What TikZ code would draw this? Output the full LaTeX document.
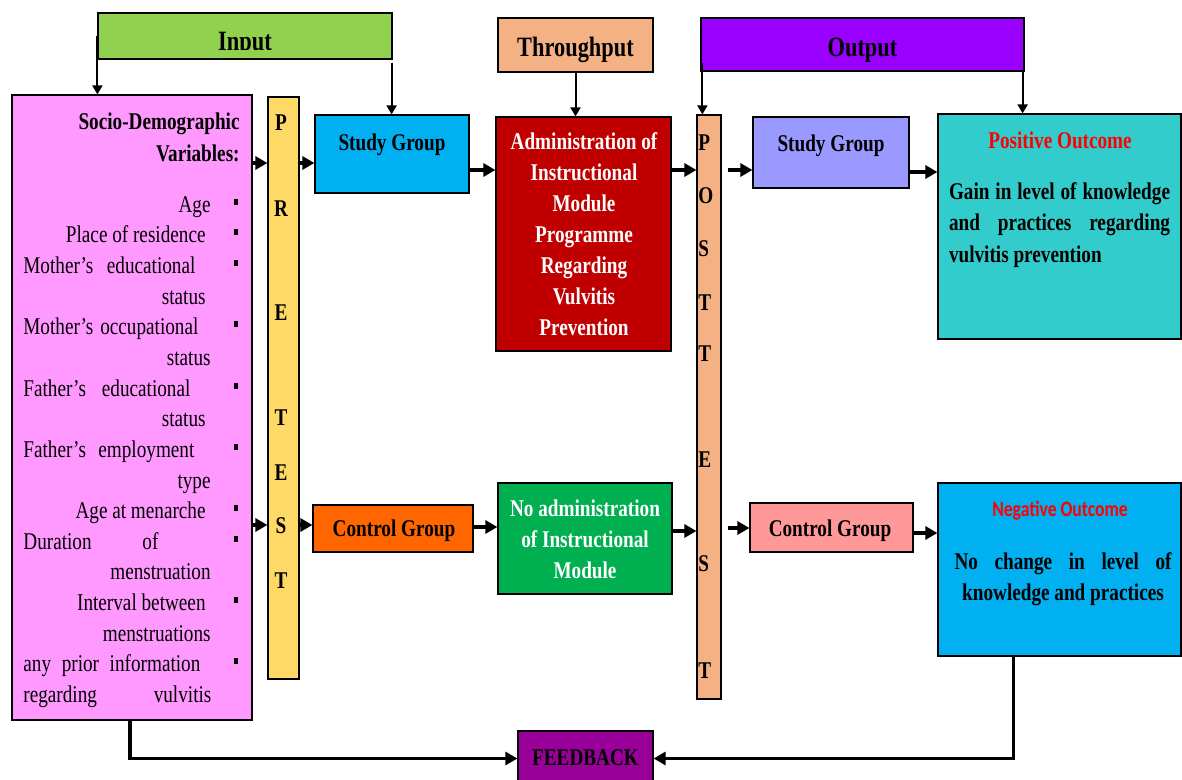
\documentclass[tikz,border=0pt]{standalone}
\usepackage{fontspec}
\setmainfont{Liberation Serif}[FakeStretch=0.8]
\newfontfamily\calfont{Carlito}[FakeStretch=0.8]
\usetikzlibrary{arrows.meta}

\definecolor{inpgreen}{HTML}{92D050}
\definecolor{thrpeach}{HTML}{F4B183}
\definecolor{outviolet}{HTML}{9900FF}
\definecolor{sociopink}{HTML}{FF99FF}
\definecolor{preyellow}{HTML}{FFD966}
\definecolor{skyblue}{HTML}{00B0F0}
\definecolor{admred}{HTML}{C00000}
\definecolor{lavender}{HTML}{9999FF}
\definecolor{posteal}{HTML}{33CCCC}
\definecolor{ctrlorange}{HTML}{FF6600}
\definecolor{noadmgreen}{HTML}{00B050}
\definecolor{ctrlpink}{HTML}{FF9999}
\definecolor{fbpurple}{HTML}{990099}

\newcommand{\apos}{{\char"27}}

\tikzset{
  box/.style={draw=black, line width=0.6pt, inner sep=0pt},
  txt/.style={inner sep=0pt, font=\fontsize{12}{15.25}\selectfont, text height=11.5pt, text depth=3pt},
  btxt/.style={txt, font=\fontsize{12}{15.25}\selectfont\bfseries},
  mtxt/.style={inner sep=0pt, font=\fontsize{12}{15.5}\selectfont\bfseries},
  head/.style={inner sep=0pt, font=\fontsize{14}{16}\selectfont\bfseries, text height=14.5pt, text depth=3pt},
  arr/.style={-{Triangle[length=6pt,width=6.5pt]}, line width=1.7pt},
  varr/.style={-{Triangle[length=4.5pt,width=5pt]}, line width=1pt},
  dot/.style={fill=black, inner sep=0pt, minimum width=2pt, minimum height=3pt},
}

\begin{document}
\begin{tikzpicture}[x=0.5pt, y=-0.5pt]
  \useasboundingbox (0,0) rectangle (1182,780);

  % boxes
  \node[box, fill=inpgreen, minimum width=147pt, minimum height=23pt] (input) at (245,36) {};
  \node[box, fill=thrpeach, minimum width=77.5pt, minimum height=27pt] (thru) at (575.5,45) {};
  \node[box, fill=outviolet, minimum width=161.5pt, minimum height=26.5pt] (output) at (862.5,44.5) {};
  \node[box, fill=sociopink, minimum width=120pt, minimum height=312.5pt] (socio) at (132,407.5) {};
  \node[box, fill=preyellow, minimum width=15.5pt, minimum height=291pt] (pretest) at (283.5,388) {};
  \node[box, fill=skyblue, minimum width=77pt, minimum height=39pt] (study1) at (392,154) {};
  \node[box, fill=admred, minimum width=87.5pt, minimum height=117pt] (admin) at (583.5,234) {};
  \node[box, fill=thrpeach, minimum width=12pt, minimum height=292pt] (posttest) at (709,407) {};
  \node[box, fill=lavender, minimum width=78pt, minimum height=35.5pt] (study2) at (831,152.5) {};
  \node[box, fill=posteal, minimum width=121.5pt, minimum height=112.5pt] (positive) at (1059.5,226.5) {};
  \node[box, fill=ctrlorange, minimum width=80pt, minimum height=23.5pt] (control1) at (393,528.5) {};
  \node[box, fill=noadmgreen, minimum width=87pt, minimum height=55.5pt] (noadmin) at (585,538.5) {};
  \node[box, fill=ctrlpink, minimum width=81.5pt, minimum height=24.5pt] (control2) at (831.5,527.5) {};
  \node[box, fill=skyblue, minimum width=121.5pt, minimum height=86.5pt] (negative) at (1059.5,569.5) {};
  \node[box, fill=fbpurple, minimum width=67.5pt, minimum height=29.5pt] (feedback) at (585.5,760.5) {};

  % headings
  \begin{scope}
    \clip (98,13) rectangle (392,50);
    \node[head, anchor=base] (t-input) at (245,51) {Input};
  \end{scope}
  \node[head] (t-thru) at (575.5,45) {Throughput};
  \node[head] (t-output) at (862.5,45) {Output};

  % socio-demographic variables
  \node[btxt, anchor=east] (t-socio1) at (240,121) {Socio-Demographic};
  \node[btxt, anchor=east] (t-socio2) at (240,153) {Variables:};
  \node[txt, anchor=east] (l1) at (211,204) {Age};
  \node[txt, anchor=east] (l2) at (206,234) {Place of residence};
  \node[txt, anchor=west] (l3) at (23,265) {\makebox[86pt][s]{Mother\apos s educational}};
  \node[txt, anchor=east] (l4) at (206,296) {status};
  \node[txt, anchor=west] (l5) at (23,326) {\makebox[87.5pt][s]{Mother\apos s occupational}};
  \node[txt, anchor=east] (l6) at (211,357) {status};
  \node[txt, anchor=west] (l7) at (23,388) {\makebox[83.5pt][s]{Father\apos s educational}};
  \node[txt, anchor=east] (l8) at (206,418) {status};
  \node[txt, anchor=west] (l9) at (23,449) {\makebox[85.5pt][s]{Father\apos s employment}};
  \node[txt, anchor=east] (l10) at (211,480) {type};
  \node[txt, anchor=east] (l11) at (206,510) {Age at menarche};
  \node[txt, anchor=west] (l12) at (23,541) {\makebox[67.5pt][s]{Duration of}};
  \node[txt, anchor=east] (l13) at (211,571) {menstruation};
  \node[txt, anchor=east] (l14) at (206,602) {Interval between};
  \node[txt, anchor=east] (l15) at (211,633) {menstruations};
  \node[txt, anchor=west] (l16) at (23,663) {\makebox[88.5pt][s]{any prior information}};
  \node[txt, anchor=west] (l17) at (23,694) {\makebox[94pt][s]{regarding vulvitis}};
  \foreach \y in {204,234,265,326,388,449,510,541,602,663}
    \node[dot] (b\y) at (236,\y-2) {};

  % test letters
  \foreach \l/\y [count=\i] in {P/122,R/208,E/312,T/417,E/472,S/525,T/580}
    \node[btxt] (pre\i) at (281,\y) {\l};
  \foreach \l/\y [count=\i] in {P/142,O/195,S/248,T/302,T/353,E/459,S/563,T/670}
    \node[btxt, anchor=west] (post\i) at (698,\y) {\l};

  % box texts
  \node[btxt] (t-study1) at (392,142) {Study Group};
  \node[mtxt, text=white, align=center] (t-admin) at (584,234)
    {Administration of\\Instructional\\Module\\Programme\\Regarding\\Vulvitis\\Prevention};
  \node[btxt] (t-study2) at (831,143) {Study Group};
  \node[btxt, text=red] (t-pos) at (1060,140) {Positive Outcome};
  \node[mtxt, align=left, font=\fontsize{12}{15.75}\selectfont\bfseries] (t-gain) at (1059.5,225)
    {\makebox[110.5pt][s]{Gain in level of knowledge}\\\makebox[110.5pt][s]{and practices regarding}\\vulvitis prevention\hspace*{24pt}};
  \node[btxt] (t-ctrl1) at (394,528) {Control Group};
  \node[mtxt, text=white, align=center] (t-noadm) at (585,539.5)
    {No administration\\of Instructional\\Module};
  \node[btxt] (t-ctrl2) at (830,528) {Control Group};
  \node[inner sep=0pt, text=red, font=\calfont\fontsize{11}{13}\selectfont\bfseries] (t-neg) at (1060,511) {Negative Outcome};
  \node[mtxt, align=center, font=\fontsize{12}{15.5}\selectfont\bfseries] (t-nochg) at (1063,579.5)
    {\makebox[108.5pt][s]{No change in level of}\\knowledge and practices};
  \node[btxt] (t-fb) at (585.5,757) {FEEDBACK};

  % rows of the arrows
  \coordinate (rowa) at (0,163);
  \coordinate (rowb) at (0,170);
  \coordinate (rowc) at (0,172);
  \coordinate (rowd) at (0,525);
  \coordinate (rowe) at (0,527);
  \coordinate (rowf) at (0,531);
  \coordinate (rowg) at (0,528);
  \coordinate (rowh) at (0,533);

  % arrows from the headings
  \draw[varr] (input.west) -- (input.west |- socio.north);
  \draw[varr] ([xshift=-0.5pt,yshift=-1.5pt]input.south east) -- ([xshift=-0.5pt]input.south east |- study1.north);
  \draw[varr] (thru.south) -- (thru.south |- admin.north);
  \draw[varr] ([xshift=1pt,yshift=4.5pt]output.south west) -- ([xshift=1pt]output.south west |- posttest.north);
  \draw[varr] ([xshift=-1pt]output.south east) -- ([xshift=-1pt]output.south east |- positive.north);

  % upper row
  \draw[arr] (socio.east |- rowa) -- (pretest.west |- rowa);
  \draw[arr] (pretest.east |- rowa) -- (study1.west |- rowa);
  \draw[arr] (study1.east |- rowb) -- (admin.west |- rowb);
  \draw[arr] (admin.east |- rowb) -- (posttest.west |- rowb);
  \draw[arr] ([xshift=3pt]posttest.east |- rowb) -- (study2.west |- rowb);
  \draw[arr] (study2.east |- rowc) -- (positive.west |- rowc);

  % lower row
  \draw[arr] (socio.east |- rowd) -- (pretest.west |- rowd);
  \draw[arr] (pretest.east |- rowd) -- (control1.west |- rowd);
  \draw[arr] (control1.east |- rowe) -- (noadmin.west |- rowe);
  \draw[arr] (noadmin.east |- rowf) -- (posttest.west |- rowf);
  \draw[arr] ([xshift=3pt]posttest.east |- rowg) -- (control2.west |- rowg);
  \draw[arr] (control2.east |- rowh) -- (negative.west |- rowh);

  % feedback loop
  \draw[arr] ([xshift=-1pt]socio.south) |- ([yshift=1pt]feedback.west);
  \draw[arr] ([xshift=-23pt]negative.south) |- ([yshift=1pt]feedback.east);
\end{tikzpicture}
\end{document}
